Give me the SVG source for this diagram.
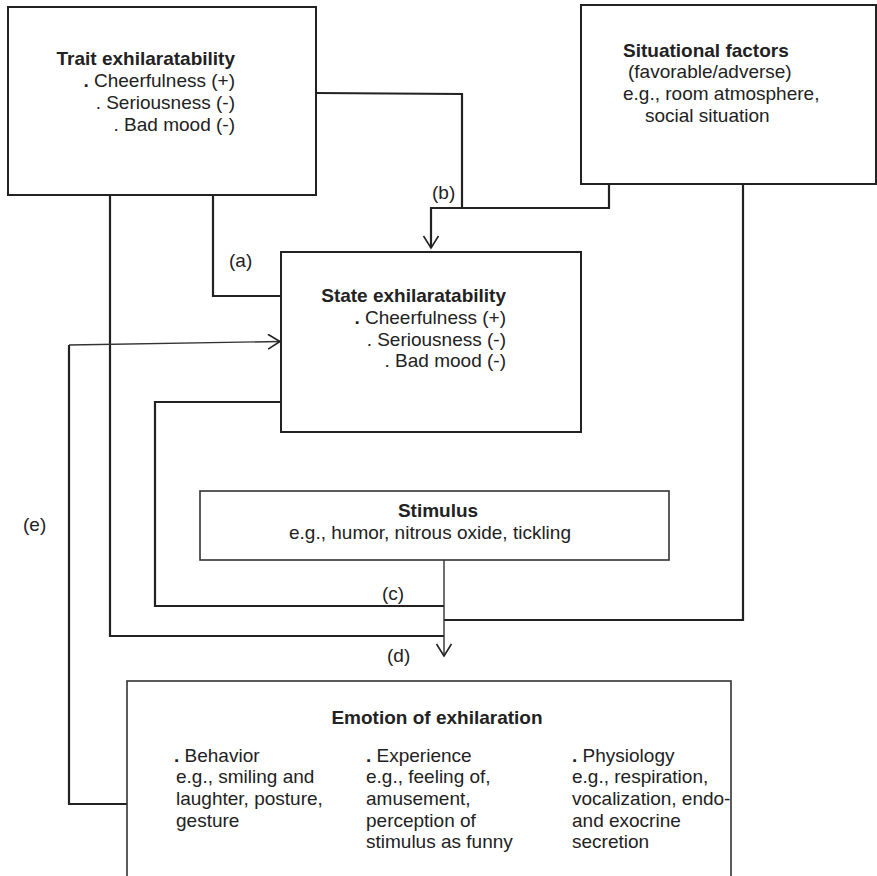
<svg xmlns="http://www.w3.org/2000/svg" width="877" height="876" viewBox="0 0 877 876">
<style>
.box{fill:#fff;stroke:#222;stroke-width:2}
.thin{fill:#fff;stroke:#333;stroke-width:1.6}
.ln{fill:none;stroke:#222;stroke-width:2.2}
.lt{fill:none;stroke:#333;stroke-width:1.4}
text{font-family:"Liberation Sans",Arial,Helvetica,sans-serif;font-size:19px;fill:#222}
.b{font-weight:bold}
.r{text-anchor:end}
.m{text-anchor:middle}
</style>
<defs>
<marker id="arr" markerUnits="userSpaceOnUse" markerWidth="16" markerHeight="18" refX="13" refY="8" orient="auto">
<path d="M1,0.5 L13,8 L1,15.5" fill="none" stroke="#222" stroke-width="1.6"/>
</marker>
</defs>
<g id="connectors">
<path class="ln" d="M213,195 V296 H281"/>
<path class="ln" d="M316,93 L462,94 V208"/>
<path class="ln" d="M609,184 V208 H431 V248" marker-end="url(#arr)"/>
<path class="ln" d="M743,184 V620 H444"/>
<path class="ln" d="M281,402 H155 V606 H444"/>
<path class="ln" d="M110,195 V636 H444"/>
<path class="lt" d="M444,560 V656" marker-end="url(#arr)"/>
<path class="ln" d="M127,804 H69 V345"/>
<path class="lt" d="M69,345 L280,341.5" marker-end="url(#arr)"/>
<text x="229" y="267">(a)</text>
<text x="432" y="199">(b)</text>
<text x="382" y="600">(c)</text>
<text x="387" y="662">(d)</text>
<text x="23" y="531">(e)</text>
</g>
<g id="trait">
<rect class="box" x="8" y="7" width="308" height="188"/>
<text class="b r" x="235" y="65">Trait exhilaratability</text>
<text class="r" x="235" y="87"><tspan class="b">.</tspan> Cheerfulness (+)</text>
<text class="r" x="235" y="109">. Seriousness (-)</text>
<text class="r" x="235" y="131">. Bad mood (-)</text>
</g>
<g id="situational">
<rect class="box" x="581" y="5" width="295" height="179"/>
<text class="b" x="623" y="57">Situational factors</text>
<text x="628" y="78">(favorable/adverse)</text>
<text x="623" y="100">e.g., room atmosphere,</text>
<text x="645" y="122">social situation</text>
</g>
<g id="state">
<rect class="box" x="281" y="252" width="300" height="180"/>
<text class="b r" x="506" y="302">State exhilaratability</text>
<text class="r" x="506" y="324"><tspan class="b">.</tspan> Cheerfulness (+)</text>
<text class="r" x="506" y="346">. Seriousness (-)</text>
<text class="r" x="506" y="367">. Bad mood (-)</text>
</g>
<g id="stimulus">
<rect class="thin" x="200" y="491" width="469" height="69"/>
<text class="b m" x="438" y="517">Stimulus</text>
<text class="m" x="430" y="539">e.g., humor, nitrous oxide, tickling</text>
</g>
<g id="emotion">
<rect class="thin" x="127" y="681" width="604" height="220"/>
<text class="b m" x="437" y="724">Emotion of exhilaration</text>
<text x="174" y="762"><tspan class="b">.</tspan> Behavior</text>
<text x="176" y="783">e.g., smiling and</text>
<text x="176" y="805">laughter, posture,</text>
<text x="176" y="827">gesture</text>
<text x="366" y="762"><tspan class="b">.</tspan> Experience</text>
<text x="366" y="783">e.g., feeling of,</text>
<text x="366" y="805">amusement,</text>
<text x="366" y="827">perception of</text>
<text x="366" y="848">stimulus as funny</text>
<text x="572" y="762"><tspan class="b">.</tspan> Physiology</text>
<text x="572" y="783">e.g., respiration,</text>
<text x="572" y="805">vocalization, endo-</text>
<text x="572" y="827">and exocrine</text>
<text x="572" y="848">secretion</text>
</g>
</svg>
